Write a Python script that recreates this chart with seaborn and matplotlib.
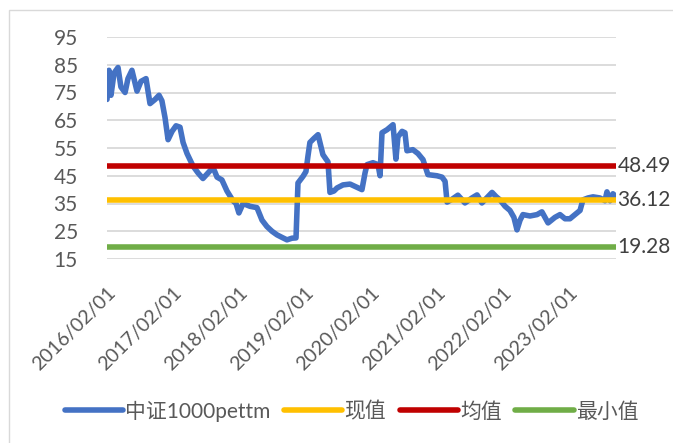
import pandas as pd
import matplotlib
matplotlib.use("Agg")
import matplotlib.pyplot as plt
import seaborn as sns
from matplotlib.patches import Rectangle

# data
dates = ["2016-02-01", "2016-02-12", "2016-02-23", "2016-03-11", "2016-04-02", "2016-04-18",
         "2016-05-11", "2016-05-27", "2016-06-18", "2016-07-16", "2016-08-07", "2016-09-04",
         "2016-09-26", "2016-10-24", "2016-11-15", "2016-12-01", "2016-12-18", "2017-01-04",
         "2017-01-26", "2017-02-17", "2017-03-11", "2017-03-28", "2017-04-19", "2017-05-22",
         "2017-06-19", "2017-07-16", "2017-08-13", "2017-09-10", "2017-10-02", "2017-10-29",
         "2017-11-26", "2017-12-29", "2018-01-15", "2018-01-31", "2018-02-23", "2018-04-02",
         "2018-05-11", "2018-06-08", "2018-07-05", "2018-08-02", "2018-08-30", "2018-09-26",
         "2018-10-24", "2018-11-21", "2018-12-13", "2018-12-24", "2019-01-21", "2019-02-06",
         "2019-02-17", "2019-02-28", "2019-03-23", "2019-04-14", "2019-05-11", "2019-05-28",
         "2019-06-08", "2019-06-19", "2019-07-11", "2019-07-28", "2019-08-30", "2019-10-08",
         "2019-11-10", "2019-12-13", "2019-12-30", "2020-01-10", "2020-02-12", "2020-03-11",
         "2020-03-22", "2020-04-02", "2020-04-30", "2020-06-02", "2020-06-18", "2020-06-29",
         "2020-07-22", "2020-08-07", "2020-08-18", "2020-09-20", "2020-10-18", "2020-11-15",
         "2020-12-12", "2021-01-31", "2021-02-28", "2021-03-17", "2021-03-28", "2021-04-24",
         "2021-05-27", "2021-07-05", "2021-08-13", "2021-09-10", "2021-10-07", "2021-11-10",
         "2021-12-02", "2021-12-24", "2022-01-15", "2022-02-12", "2022-03-11", "2022-04-02",
         "2022-04-19", "2022-05-06", "2022-05-22", "2022-06-30", "2022-08-08", "2022-09-04",
         "2022-10-08", "2022-11-15", "2022-12-13", "2023-01-10", "2023-02-06", "2023-03-06",
         "2023-04-03", "2023-04-19", "2023-05-17", "2023-06-14", "2023-07-22", "2023-08-19",
         "2023-08-30", "2023-09-16", "2023-10-02", "2023-10-19"]
pe_ttm = [72.5, 83, 74, 82, 84, 77,
          75, 80, 83, 75.5, 79, 80,
          71, 72.5, 74, 72, 66, 58,
          61, 63, 62.5, 57, 53, 48.5,
          46, 44, 46, 48, 44.5, 43.5,
          39.5, 36, 35, 31.6, 35, 34,
          33.5, 29, 26.7, 25, 23.7, 22.8,
          21.9, 22.5, 22.6, 42.4, 44.8, 46.5,
          52, 57, 58.5, 59.8, 52.6, 51,
          50, 39, 39.5, 40.6, 41.7, 42,
          41, 40, 46, 49, 49.7, 49,
          45, 60.5, 61.6, 63.4, 51, 59,
          61, 60.5, 54, 54.4, 53, 50.8,
          45.4, 45, 44.5, 43, 35.5, 36.5,
          38, 35.2, 37, 38.1, 35.2, 37.5,
          39, 37.5, 36.3, 34, 32.5, 30,
          25.5, 29, 31, 30.5, 31, 32,
          28, 30, 31, 29.5, 29.5, 31,
          32.5, 36.3, 37, 37.4, 37, 36,
          39.2, 36, 38.5, 37.5]
current_value = 36.12
mean_value = 48.49
min_value = 19.28

series_names = ["中证1000pettm", "现值", "均值", "最小值"]
colors = ["#4472C4", "#FFC000", "#C00000", "#70AD47"]
tick_dates = ["2016-02-01", "2017-02-01", "2018-02-01", "2019-02-01",
              "2020-02-01", "2021-02-01", "2022-02-01", "2023-02-01"]
tick_labels = ["2016/02/01", "2017/02/01", "2018/02/01", "2019/02/01",
               "2020/02/01", "2021/02/01", "2022/02/01", "2023/02/01"]
y_ticks = [15, 25, 35, 45, 55, 65, 75, 85, 95]

# build long table for seaborn
n = len(dates)
df = pd.concat([
    pd.DataFrame({"date": pd.to_datetime(dates), "value": pe_ttm, "series": series_names[0]}),
    pd.DataFrame({"date": pd.to_datetime(dates), "value": [current_value] * n, "series": series_names[1]}),
    pd.DataFrame({"date": pd.to_datetime(dates), "value": [mean_value] * n, "series": series_names[2]}),
    pd.DataFrame({"date": pd.to_datetime(dates), "value": [min_value] * n, "series": series_names[3]}),
])

sns.set_style("white")
plt.rcParams['font.family'] = ['Lato', 'Noto Sans CJK SC', 'DejaVu Sans']
fs = 15

fig = plt.figure(figsize=(6.73, 4.43), dpi=100)
ax = fig.add_axes([107 / 673, 1 - 259 / 443, 509 / 673, 222 / 443])

sns.lineplot(data=df, x="date", y="value", hue="series", hue_order=series_names,
             palette=dict(zip(series_names, colors)), linewidth=4.0, ax=ax,
             solid_capstyle="round", solid_joinstyle="round", zorder=3)

ax.set_xlim(pd.Timestamp(dates[0]), pd.Timestamp(dates[-1]))
ax.set_ylim(15, 95)
ax.set_yticks(y_ticks)
ax.set_xticks(pd.to_datetime(tick_dates))
ax.set_xticklabels(tick_labels, rotation=45, ha="right", rotation_mode="anchor")
ax.tick_params(axis="both", labelsize=fs, labelcolor="#595959", length=0)
ax.tick_params(axis="x", labelsize=14.2, pad=18)
ax.tick_params(axis="y", pad=21)
ax.grid(axis="y", color="#D9D9D9", linewidth=1.3, zorder=0)
ax.grid(axis="x", visible=False)
for s in ax.spines.values():
    s.set_visible(False)
ax.set_xlabel("")
ax.set_ylabel("")

# labels at the end of the flat lines
for val in [mean_value, current_value, min_value]:
    ax.annotate(f"{val:.2f}", xy=(pd.Timestamp(dates[-1]), val), xytext=(1, 0),
                textcoords="offset points", ha="left", va="center",
                fontsize=fs, color="#404040", annotation_clip=False)

leg = ax.legend(loc="center", bbox_to_anchor=(0.5 - 10 / 509, -(411 - 259) / 222),
                ncol=4, frameon=False, fontsize=fs, handlelength=2.8,
                handletextpad=0.1, columnspacing=0.65, borderaxespad=0)
for txt in leg.get_texts():
    txt.set_color("#595959")
for line in leg.get_lines():
    line.set_linewidth(4.0)
    line.set_solid_capstyle("round")

# chart border
fig.patches.append(Rectangle((9 / 673, -0.1), 1.2, 1.1 - 10 / 443,
                             transform=fig.transFigure, fill=False,
                             edgecolor="#D9D9D9", linewidth=1.0))

fig.savefig("out.png", dpi=100)
